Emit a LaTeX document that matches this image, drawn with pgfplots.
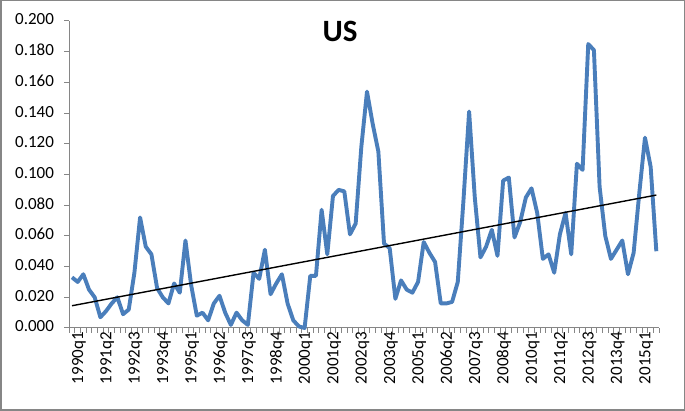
\documentclass[border=0pt]{standalone}
\usepackage{pgfplots}
\pgfplotsset{compat=1.18}
\usepackage{pgfplotstable}
\usepackage{fontspec}
\setmainfont{Carlito}
\definecolor{serblue}{HTML}{4A7EBB}
\definecolor{axgray}{HTML}{868686}
\pgfplotstableread{
x y
0 0.033
1 0.030
2 0.035
3 0.025
4 0.020
5 0.007
6 0.011
7 0.016
8 0.020
9 0.009
10 0.012
11 0.036
12 0.072
13 0.053
14 0.048
15 0.026
16 0.020
17 0.016
18 0.029
19 0.023
20 0.057
21 0.028
22 0.008
23 0.010
24 0.005
25 0.016
26 0.021
27 0.010
28 0.002
29 0.010
30 0.005
31 0.002
32 0.036
33 0.032
34 0.051
35 0.022
36 0.029
37 0.035
38 0.016
39 0.005
40 0.001
41 0.000
42 0.034
43 0.034
44 0.077
45 0.048
46 0.086
47 0.090
48 0.089
49 0.061
50 0.068
51 0.118
52 0.154
53 0.133
54 0.115
55 0.055
56 0.052
57 0.019
58 0.031
59 0.025
60 0.023
61 0.030
62 0.056
63 0.049
64 0.043
65 0.016
66 0.016
67 0.017
68 0.030
69 0.083
70 0.141
71 0.085
72 0.046
73 0.053
74 0.064
75 0.047
76 0.096
77 0.098
78 0.059
79 0.069
80 0.085
81 0.091
82 0.075
83 0.045
84 0.048
85 0.036
86 0.061
87 0.075
88 0.048
89 0.107
90 0.103
91 0.185
92 0.181
93 0.092
94 0.060
95 0.045
96 0.051
97 0.057
98 0.035
99 0.049
100 0.088
101 0.124
102 0.105
103 0.050
}\usdata
\begin{document}
\begin{tikzpicture}[x=1pt,y=1pt]
\begin{axis}[
  at={(72pt,83pt)}, anchor=origin,
  scale only axis, width=590pt, height=307pt,
  xmin=-0.5, xmax=103.5, ymin=0, ymax=0.2,
  axis lines=left,
  axis line style={draw=axgray, line width=1pt, -},
  tick style={draw=axgray, line width=1pt},
  tick align=outside,
  xtick={0,5,...,100},
  xticklabels={1990q1,1991q2,1992q3,1993q4,1995q1,1996q2,1997q3,1998q4,2000q1,2001q2,2002q3,2003q4,2005q1,2006q2,2007q3,2008q4,2010q1,2011q2,2012q3,2013q4,2015q1},
  major x tick style={draw=none},
  minor xtick={-0.5,0.5,...,103.5},
  minor tick length=5pt,
  major tick length=5pt,
  ytick={0,0.02,...,0.2},
  /pgf/number format/fixed,
  /pgf/number format/fixed zerofill,
  /pgf/number format/precision=3,
  /pgf/number format/assume math mode=true,
  yticklabel style={font=\fontsize{17}{20}\selectfont, anchor=east, inner sep=0pt, xshift=-10pt},
  xticklabel style={font=\fontsize{17}{20}\selectfont, rotate=90, anchor=east, inner sep=0pt, yshift=-7pt, xshift=1pt},
  typeset ticklabels with strut=false,
  title={\textbf{US}},
  title style={at={(0.459,0.948)}, anchor=center, font=\fontsize{31}{36}\selectfont},
  clip=false,
]
\addplot[serblue, line width=3.9pt, line join=round] table[x=x,y=y] {\usdata};
\addplot[black, line width=1.4pt] coordinates {(0,0.0145) (103,0.0866)};
\end{axis}
\draw[axgray, line width=1.5pt] (0.75pt,0.75pt) rectangle (684.25pt,410.25pt);
\end{tikzpicture}
\end{document}
